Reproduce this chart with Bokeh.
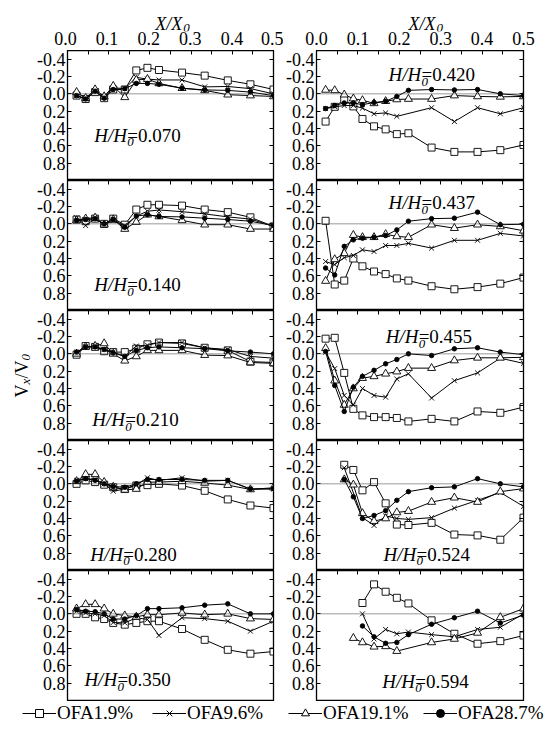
import math
from bokeh.plotting import figure
from bokeh.layouts import column, row
from bokeh.models import (Range1d, LinearAxis, FixedTicker, PrintfTickFormatter,
                          Span, Label, Legend, LegendItem)
from bokeh.embed import file_html
from bokeh.resources import INLINE

FONT = "Liberation Serif"

# ---------------- data ----------------
X_POS = [0.022, 0.044, 0.067, 0.089, 0.111, 0.139, 0.167, 0.194, 0.222, 0.278, 0.333, 0.389, 0.444, 0.5]
SERIES = ["OFA1.9%", "OFA9.6%", "OFA19.1%", "OFA28.7%"]
Y_TICKS = [-0.4, -0.2, 0.0, 0.2, 0.4, 0.6, 0.8]
X_TICKS = [0.0, 0.1, 0.2, 0.3, 0.4, 0.5]
X_MINOR = [0.05, 0.15, 0.25, 0.35, 0.45]

# series order: OFA1.9%, OFA9.6%, OFA19.1%, OFA28.7%  (None = no point)
H070 = [
    [0.02, 0.06, -0.02, 0.05, -0.05, -0.05, -0.27, -0.30, -0.275, -0.245, -0.21, -0.155, -0.11, -0.05],
    [0.02, 0.06, -0.03, 0.04, -0.07, -0.06, -0.19, -0.17, -0.16, -0.16, -0.08, -0.085, -0.06, 0.0],
    [-0.02, 0.05, -0.05, 0.03, -0.09, 0.04, -0.16, -0.17, -0.12, -0.065, -0.04, 0.01, 0.02, 0.03],
    [0.02, 0.06, -0.03, 0.05, -0.05, -0.06, -0.12, -0.12, -0.11, -0.065, -0.045, -0.04, -0.02, 0.02],
]
H140 = [
    [-0.05, -0.03, -0.06, 0.0, -0.06, 0.01, -0.165, -0.22, -0.22, -0.21, -0.165, -0.135, -0.075, 0.03],
    [-0.07, 0.02, -0.06, 0.01, -0.04, 0.02, -0.09, -0.145, -0.16, -0.14, -0.115, -0.08, -0.055, 0.03],
    [-0.04, -0.06, -0.07, 0.01, -0.05, 0.06, -0.02, -0.105, -0.085, -0.04, 0.01, 0.01, 0.06, 0.06],
    [-0.04, -0.05, -0.06, 0.0, -0.05, 0.04, -0.09, -0.105, -0.085, -0.08, -0.065, -0.05, -0.03, 0.02],
]
H210 = [
    [0.01, -0.09, -0.08, -0.03, -0.02, -0.02, -0.06, -0.11, -0.13, -0.12, -0.07, -0.04, 0.09, 0.10],
    [-0.02, -0.08, -0.08, -0.05, -0.02, 0.03, -0.09, -0.10, -0.13, -0.13, -0.07, -0.05, 0.03, 0.05],
    [0.0, -0.08, -0.09, -0.12, 0.0, 0.08, 0.03, -0.04, -0.04, -0.04, 0.015, 0.02, 0.10, 0.11],
    [-0.02, -0.08, -0.08, -0.05, -0.01, 0.03, -0.04, -0.07, -0.08, -0.07, -0.06, -0.035, -0.02, 0.0],
]
H280 = [
    [0.0, -0.04, -0.02, 0.01, 0.04, 0.06, 0.02, 0.015, 0.0, 0.02, 0.08, 0.18, 0.25, 0.28],
    [-0.04, -0.06, -0.05, 0.0, 0.085, 0.06, 0.01, -0.07, -0.04, -0.07, -0.03, -0.04, 0.06, 0.06],
    [-0.03, -0.11, -0.11, -0.02, 0.035, 0.07, 0.06, -0.02, -0.02, -0.03, -0.01, 0.015, 0.065, 0.045],
    [-0.03, -0.06, -0.04, 0.0, 0.03, 0.04, 0.0, -0.05, -0.05, -0.05, -0.04, -0.04, 0.06, 0.055],
]
H350 = [
    [0.0, 0.0, 0.04, 0.06, 0.105, 0.125, 0.105, 0.085, 0.085, 0.175, 0.30, 0.415, 0.46, 0.435],
    [-0.03, -0.01, 0.0, 0.02, 0.10, 0.105, 0.045, 0.065, 0.25, 0.045, 0.055, 0.085, 0.20, 0.085],
    [-0.06, -0.11, -0.11, -0.06, 0.0, 0.02, 0.035, 0.01, 0.01, -0.01, 0.01, 0.0, 0.055, 0.065],
    [-0.05, -0.03, -0.025, 0.0, 0.06, 0.06, 0.02, -0.06, -0.06, -0.07, -0.10, -0.115, 0.0, 0.0],
]
H420 = [
    [0.32, 0.15, 0.065, 0.145, 0.29, 0.375, 0.41, 0.465, 0.455, 0.62, 0.67, 0.67, 0.65, 0.59],
    [0.17, 0.15, 0.135, 0.135, 0.165, 0.23, 0.22, 0.26, None, 0.16, 0.32, 0.16, 0.23, 0.16],
    [-0.045, -0.04, 0.01, 0.055, 0.075, 0.11, 0.085, 0.065, 0.06, 0.06, 0.02, 0.03, 0.035, 0.03],
    [0.17, 0.135, 0.105, 0.105, 0.125, 0.10, 0.085, 0.03, -0.04, -0.05, -0.045, -0.05, 0.0, 0.02],
]
H437 = [
    [-0.035, 0.70, 0.655, 0.40, 0.49, 0.55, 0.58, 0.63, 0.655, 0.72, 0.755, 0.73, 0.69, 0.62],
    [0.435, 0.47, 0.39, 0.365, 0.30, 0.32, 0.25, 0.25, 0.225, 0.28, 0.19, 0.19, 0.11, 0.14],
    [0.66, 0.41, 0.34, 0.13, 0.155, 0.155, 0.12, 0.145, 0.155, 0.01, 0.05, 0.01, 0.03, 0.08],
    [0.51, 0.59, 0.26, 0.185, 0.165, 0.155, 0.135, 0.07, -0.03, -0.06, -0.065, -0.135, 0.01, 0.005],
]
H455 = [
    [-0.175, -0.185, 0.22, 0.635, 0.71, 0.73, 0.73, 0.74, 0.78, 0.75, 0.78, 0.665, 0.68, 0.615],
    [-0.02, 0.17, 0.48, 0.59, 0.40, 0.48, 0.50, 0.29, 0.23, 0.51, 0.31, 0.22, 0.05, 0.11],
    [-0.065, 0.31, 0.59, 0.40, 0.28, 0.26, 0.23, 0.205, 0.165, 0.165, 0.077, 0.046, 0.046, 0.04],
    [-0.027, 0.365, 0.665, 0.385, 0.26, 0.19, 0.115, 0.065, 0.0, 0.02, -0.058, -0.07, -0.02, 0.01],
]
H524 = [
    [None, None, -0.22, -0.16, 0.075, -0.02, 0.225, 0.47, 0.475, 0.45, 0.585, 0.595, 0.645, 0.39],
    [None, None, -0.185, None, 0.39, 0.48, 0.37, 0.40, 0.41, 0.39, 0.28, 0.19, 0.10, 0.26],
    [None, None, -0.05, 0.01, 0.34, 0.43, 0.40, 0.33, 0.315, 0.21, 0.16, 0.21, 0.09, 0.055],
    [None, None, -0.05, 0.15, 0.40, 0.365, 0.31, 0.19, 0.09, 0.045, 0.035, -0.06, 0.0, 0.035],
]
H594 = [
    [None, None, None, None, -0.125, -0.34, -0.255, -0.185, -0.12, 0.075, 0.23, 0.345, 0.315, 0.25],
    [None, None, None, None, 0.0, 0.29, 0.18, 0.23, 0.21, 0.24, 0.265, 0.18, 0.155, 0.0],
    [None, None, None, 0.28, 0.33, 0.38, 0.375, 0.43, None, 0.33, 0.29, 0.22, 0.04, -0.06],
    [None, None, None, None, 0.14, 0.265, 0.34, 0.33, 0.24, 0.12, 0.045, -0.03, 0.105, 0.015],
]

LEFT_H = ["0.070", "0.140", "0.210", "0.280", "0.350"]
RIGHT_H = ["0.420", "0.437", "0.455", "0.524", "0.594"]
LEFT_DATA = [H070, H140, H210, H280, H350]
RIGHT_DATA = [H420, H437, H455, H524, H594]

# ---------------- style / layout ----------------
LEFT_LABEL_POS = [(0.065, 0.48), (0.065, 0.70), (0.060, 0.76), (0.055, 0.81), (0.041, 0.76)]
RIGHT_LABEL_POS = [(0.174, -0.22), (0.174, -0.245), (0.167, -0.20), (0.162, 0.81), (0.159, 0.78)]

MARK = [
    dict(marker="square", size=7, fill_color="white"),
    dict(marker="x", size=7, fill_color="white"),
    dict(marker="triangle", size=8, fill_color="white"),
    dict(marker="circle", size=4.5, fill_color="black"),
]
LEG_MARK = [
    dict(marker="square", size=11, fill_color="white"),
    dict(marker="x", size=13, fill_color="white"),
    dict(marker="triangle", size=13, fill_color="white"),
    dict(marker="circle", size=11, fill_color="black"),
]

TICK_FS = "18px"
STRIP_W = 34                 # left strip holding the y title
HEAD_H = 50                  # header strip holding x tick labels and x title
HEAD_AXIS = 19               # room for the header's tick-label axis
FRAME_H = 130
COLS = [  # (border_left, frame_width, border_right) in pixels
    (31, 208, 10),
    (33, 207, 30),
]


def add_h_label(p, x, y, val):
    common = dict(x=x, y=y, text_font=FONT, text_color="black",
                  text_baseline="alphabetic", text_align="left")
    p.add_layout(Label(text="H/H", text_font_style="italic", text_font_size="19px", **common))
    p.add_layout(Label(text="0", text_font_style="italic", text_font_size="13px",
                       x_offset=33, y_offset=-7, **common))
    p.add_layout(Label(text="=" + val, text_font_size="19px", x_offset=33, **common))


def tick_axis(ticks, minor=None):
    # tick marks only: labels are not painted and take no room
    return LinearAxis(ticker=FixedTicker(ticks=ticks, minor_ticks=minor or []),
                      major_tick_in=4, major_tick_out=0, minor_tick_in=4, minor_tick_out=0,
                      major_label_text_font_size="0px", major_label_text_color=None,
                      major_label_standoff=0,
                      axis_line_color="black", major_tick_line_color="black",
                      minor_tick_line_color="black")


def make_panel(colidx, rowidx, hval, data, label_pos):
    bl, fw, br = COLS[colidx]
    bottom = 1 if rowidx == 4 else 0
    p = figure(width=bl + fw + br, height=FRAME_H + bottom,
               x_range=Range1d(0, 0.5), y_range=Range1d(1.0, -0.5),
               output_backend="svg", toolbar_location=None,
               min_border_left=bl, min_border_right=br,
               min_border_top=0, min_border_bottom=bottom,
               x_axis_location=None, y_axis_location=None)
    p.grid.visible = False
    p.outline_line_color = "black"
    p.outline_line_width = 1.3
    p.background_fill_color = "white"
    p.border_fill_color = "white"

    yax = LinearAxis(ticker=FixedTicker(ticks=Y_TICKS),
                     formatter=PrintfTickFormatter(format="%.1f"),
                     major_tick_in=4, major_tick_out=0, minor_tick_in=0, minor_tick_out=0,
                     major_label_standoff=2, major_label_text_font=FONT,
                     major_label_text_font_size=TICK_FS, major_label_text_color="black",
                     axis_line_color="black", major_tick_line_color="black")
    p.add_layout(yax, "left")
    p.add_layout(tick_axis(X_TICKS, X_MINOR), "above")
    p.add_layout(tick_axis(Y_TICKS), "right")

    p.add_layout(Span(location=0, dimension="width", line_color="#333333",
                      line_dash="1 1", line_width=1))

    for si in range(4):
        xs = [x for x, v in zip(X_POS, data[si]) if v is not None]
        ys = [v for v in data[si] if v is not None]
        p.line(xs, ys, line_color="black", line_width=1.0)
        m = MARK[si]
        p.scatter(xs, ys, marker=m["marker"], size=m["size"], fill_color=m["fill_color"],
                  line_color="black", line_width=0.9)

    add_h_label(p, label_pos[0], label_pos[1], hval)
    return p


def make_header(colidx, title_x, extra_left):
    bl, fw, br = COLS[colidx]
    bl = bl + extra_left
    w = bl + fw + br
    # x range chosen so that data x maps to the same pixels as in the panels below
    x0 = -bl / fw * 0.5
    x1 = (w - bl) / fw * 0.5
    fh = HEAD_H - HEAD_AXIS
    h = figure(width=w, height=HEAD_H, x_range=Range1d(x0, x1), y_range=Range1d(fh, 0),
               output_backend="svg", toolbar_location=None,
               min_border_left=0, min_border_right=0, min_border_top=0,
               min_border_bottom=HEAD_AXIS,
               x_axis_location=None, y_axis_location=None)
    h.grid.visible = False
    h.outline_line_color = None
    xax = LinearAxis(ticker=FixedTicker(ticks=X_TICKS),
                     formatter=PrintfTickFormatter(format="%.1f"),
                     major_tick_in=0, major_tick_out=0, minor_tick_in=0, minor_tick_out=0,
                     major_label_standoff=0, major_label_text_font=FONT,
                     major_label_text_font_size=TICK_FS, major_label_text_color="black",
                     axis_line_color=None, major_tick_line_color=None)
    h.add_layout(xax, "below")
    common = dict(x=title_x, y=23, text_font=FONT, text_color="black",
                  text_baseline="alphabetic", text_align="left", text_font_style="italic")
    h.add_layout(Label(text="X/X", text_font_size="18px", **common))
    h.add_layout(Label(text="0", text_font_size="13px", x_offset=28, y_offset=-4, **common))
    return h


lefts = [make_panel(0, i, LEFT_H[i], LEFT_DATA[i], LEFT_LABEL_POS[i]) for i in range(5)]
rights = [make_panel(1, i, RIGHT_H[i], RIGHT_DATA[i], RIGHT_LABEL_POS[i]) for i in range(5)]
headL = make_header(0, 0.216, STRIP_W)
headR = make_header(1, 0.222, 0)

# ---------------- left strip with y title ----------------
body_h = FRAME_H * 5 + 1
ystrip = figure(width=STRIP_W, height=body_h, x_range=Range1d(0, STRIP_W),
                y_range=Range1d(body_h, 0), output_backend="svg", toolbar_location=None,
                min_border=0, x_axis_location=None, y_axis_location=None)
ystrip.grid.visible = False
ystrip.outline_line_color = None
vc = dict(x=21, y=347, text_font=FONT, text_color="black",
          text_baseline="alphabetic", text_align="left", angle=math.pi / 2)
ystrip.add_layout(Label(text="V", text_font_size="18px", **vc))
ystrip.add_layout(Label(text="x", text_font_size="13px", text_font_style="italic",
                        x_offset=4, y_offset=13, **vc))
ystrip.add_layout(Label(text="/V", text_font_size="18px", y_offset=19, **vc))
ystrip.add_layout(Label(text="0", text_font_size="13px", text_font_style="italic",
                        x_offset=4, y_offset=37, **vc))

# ---------------- legend strip ----------------
leg_h = 736 - HEAD_H - body_h
leg = figure(width=553, height=leg_h, x_range=Range1d(0, 1), y_range=Range1d(0, 1),
             output_backend="svg", toolbar_location=None, min_border=0,
             x_axis_location=None, y_axis_location=None)
leg.grid.visible = False
leg.outline_line_color = None
LEG_X = [22, 152, 288, 423]
for si in range(4):
    src_x = X_POS[-1:]
    src_y = LEFT_DATA[0][si][-1:]
    lr = leg.line(x=src_x, y=src_y, line_color="black", line_width=1, visible=False)
    m = LEG_MARK[si]
    mr = leg.scatter(x=src_x, y=src_y, marker=m["marker"], size=m["size"],
                     fill_color=m["fill_color"], line_color="black", line_width=1,
                     visible=False)
    lg = Legend(items=[LegendItem(label=SERIES[si], renderers=[lr, mr])],
                location=(LEG_X[si], 12), orientation="horizontal",
                glyph_width=34, glyph_height=20, label_standoff=1, padding=0, margin=0,
                border_line_color=None, background_fill_alpha=0,
                inactive_fill_alpha=0,
                label_text_font=FONT, label_text_font_size="19px",
                label_text_color="black")
    leg.add_layout(lg)

layout = column(row(headL, headR),
                row(ystrip, column(*lefts), column(*rights)),
                leg)
open("out.html", "w").write(file_html(layout, INLINE))
